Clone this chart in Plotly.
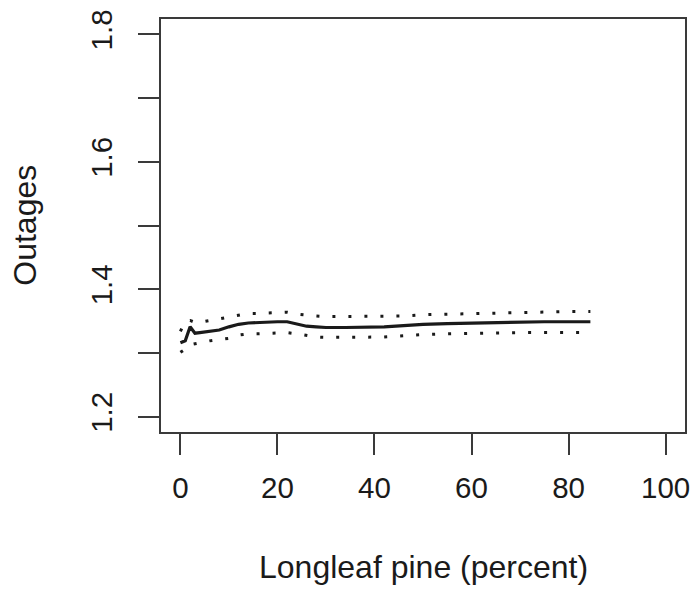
import plotly.graph_objects as go

# Fitted smooth of outages against longleaf pine share, with pointwise bands
pine_pct = [0, 1, 2, 3, 4, 6, 8, 10, 12, 14, 16, 18, 20, 22, 24, 26, 28, 30,
            34, 38, 42, 46, 50, 55, 60, 65, 70, 75, 80, 84.5]
fit = [1.316, 1.319, 1.341, 1.331, 1.332, 1.334, 1.336, 1.341, 1.345, 1.347,
       1.348, 1.348, 1.349, 1.349, 1.346, 1.342, 1.341, 1.340, 1.340, 1.340,
       1.341, 1.343, 1.345, 1.346, 1.347, 1.348, 1.348, 1.349, 1.349, 1.349]
upper = [1.334, 1.350, 1.351, 1.348, 1.348, 1.351, 1.353, 1.356, 1.360, 1.362,
         1.362, 1.363, 1.364, 1.364, 1.361, 1.359, 1.358, 1.357, 1.357, 1.357,
         1.357, 1.358, 1.360, 1.361, 1.362, 1.363, 1.364, 1.365, 1.365, 1.365]
lower = [1.301, 1.306, 1.313, 1.315, 1.316, 1.319, 1.321, 1.323, 1.328, 1.330,
         1.330, 1.331, 1.332, 1.332, 1.330, 1.327, 1.325, 1.3245, 1.3245, 1.3245,
         1.325, 1.327, 1.329, 1.330, 1.331, 1.332, 1.332, 1.332, 1.332, 1.332]

x_ticks = [0, 20, 40, 60, 80, 100]
y_ticks = [1.2, 1.3, 1.4, 1.5, 1.6, 1.7, 1.8]
y_tick_text = ["1.2", "", "1.4", "", "1.6", "", "1.8"]

FONT = "Liberation Sans, Arial, Helvetica, sans-serif"
INK = "#1a1a1a"
AXIS = "#3a3a3a"

fig = go.Figure()
for band in (upper, lower):
    fig.add_trace(go.Scatter(
        x=pine_pct, y=band, mode="lines",
        line=dict(color=INK, width=3, dash="3px,13px"),
        hoverinfo="skip", showlegend=False,
    ))
fig.add_trace(go.Scatter(
    x=pine_pct, y=fit, mode="lines",
    line=dict(color=INK, width=3.2), showlegend=False,
))

axis_common = dict(
    showline=True, mirror=True, linecolor=AXIS, linewidth=2,
    ticks="outside", ticklen=21, tickwidth=2, tickcolor=AXIS,
    showgrid=False, zeroline=False,
    tickfont=dict(family=FONT, size=29.5, color=INK),
)

fig.update_layout(
    width=699, height=590,
    margin=dict(l=161, r=9, t=18, b=158),
    paper_bgcolor="white", plot_bgcolor="white",
    xaxis=dict(range=[-4, 104], tickvals=x_ticks, ticklabelstandoff=8,
               **axis_common),
    yaxis=dict(range=[1.176, 1.824], tickvals=y_ticks, ticktext=y_tick_text,
               tickangle=-90, ticklabelstandoff=14, **axis_common),
    annotations=[
        dict(text="Longleaf pine (percent)", xref="paper", yref="paper",
             x=0.501, y=-0.326, xanchor="center", yanchor="middle",
             showarrow=False, font=dict(family=FONT, size=32, color=INK)),
        dict(text="Outages", xref="paper", yref="paper",
             x=-0.261, y=0.5, xanchor="center", yanchor="middle",
             textangle=-90, showarrow=False,
             font=dict(family=FONT, size=32, color=INK)),
    ],
)

fig.write_html("out.html")
